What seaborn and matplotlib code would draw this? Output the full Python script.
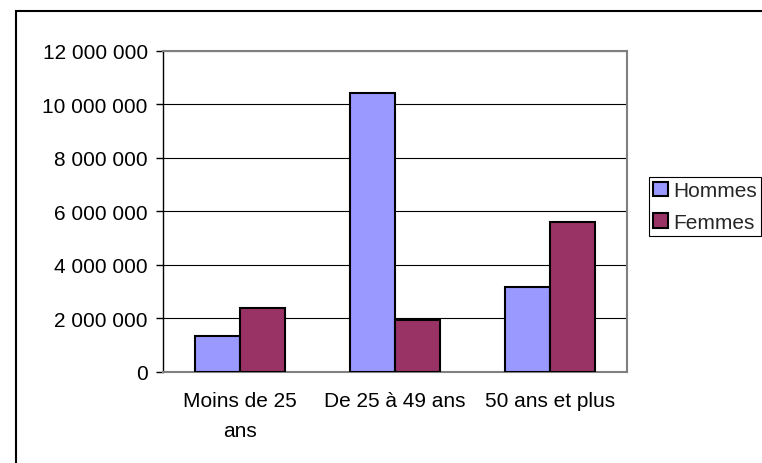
"""
Bar chart of men vs women per age group, Excel-style look.
Saves out.png (762x464).
"""

import matplotlib.pyplot as plt
import matplotlib.ticker as mticker
from matplotlib.patches import Patch, Rectangle
import pandas as pd
import seaborn as sns

# Data
categories = ["Moins de 25\nans", "De 25 à 49 ans", "50 ans et plus"]
hommes = [1_320_000, 10_410_000, 3_150_000]
femmes = [2_380_000, 1_920_000, 5_600_000]
series = ["Hommes", "Femmes"]
colors = {"Hommes": "#9999FF", "Femmes": "#993366"}
y_ticks = [0, 2_000_000, 4_000_000, 6_000_000, 8_000_000, 10_000_000, 12_000_000]

FS = 15


def main() -> None:
    df = pd.DataFrame(
        {
            "Catégorie": categories * 2,
            "Valeur": hommes + femmes,
            "Série": ["Hommes"] * 3 + ["Femmes"] * 3,
        }
    )

    sns.set_theme(style="white")
    plt.rcParams["font.family"] = ["Liberation Sans", "DejaVu Sans"]

    fig = plt.figure(figsize=(7.62, 4.64), dpi=100)
    ax = fig.add_axes([0.2139, 0.1968, 0.609, 0.6918])

    sns.barplot(
        data=df,
        x="Catégorie",
        y="Valeur",
        hue="Série",
        hue_order=series,
        palette=colors,
        saturation=1,
        width=0.58,
        edgecolor="black",
        linewidth=1.5,
        legend=False,
        ax=ax,
        zorder=3,
    )

    ax.set_ylim(0, 12_000_000)
    ax.set_xlim(-0.5, 2.5)
    ax.set_yticks(y_ticks)
    ax.yaxis.set_major_formatter(
        mticker.FuncFormatter(lambda v, _: f"{int(v):,}".replace(",", " "))
    )
    ax.grid(axis="y", color="black", linewidth=0.8, zorder=0)
    ax.set_axisbelow(True)
    ax.set_xlabel("")
    ax.set_ylabel("")

    # category ticks between groups
    ax.set_xticks([-0.5, 0.5, 1.5, 2.5], minor=True)
    ax.tick_params(axis="x", which="minor", length=5, width=1, color="black",
                   direction="out")
    ax.tick_params(axis="x", which="major", length=0, pad=14, labelsize=FS,
                   colors="black")
    ax.tick_params(axis="y", length=5, width=1, color="black", direction="out",
                   left=True, labelsize=FS, colors="black", pad=6)
    for lbl in ax.get_xticklabels():
        lbl.set_linespacing(1.75)

    for side in ["top", "right", "bottom"]:
        ax.spines[side].set_color("#808080")
        ax.spines[side].set_linewidth(1.5)
    ax.spines["left"].set_color("black")
    ax.spines["left"].set_linewidth(1.0)

    handles = [
        Patch(facecolor=colors[s], edgecolor="black", linewidth=1.5, label=s)
        for s in series
    ]
    leg = fig.legend(
        handles=handles,
        loc="upper left",
        bbox_to_anchor=(649 / 762, 1 - 178 / 464),
        frameon=True,
        fancybox=False,
        edgecolor="black",
        framealpha=1,
        fontsize=FS,
        handlelength=0.7,
        handleheight=0.7,
        handletextpad=0.25,
        borderpad=0.2,
        borderaxespad=0,
        labelspacing=0.6,
    )
    leg.get_frame().set_linewidth(0.8)

    # outer chart border
    fig.patches.append(
        Rectangle((16 / 762, -0.1), 1.2, 1 - 12 / 464 + 0.1,
                  transform=fig.transFigure, fill=False,
                  edgecolor="black", linewidth=1.5)
    )

    fig.savefig("out.png", dpi=100)
    plt.close(fig)


if __name__ == "__main__":
    main()
